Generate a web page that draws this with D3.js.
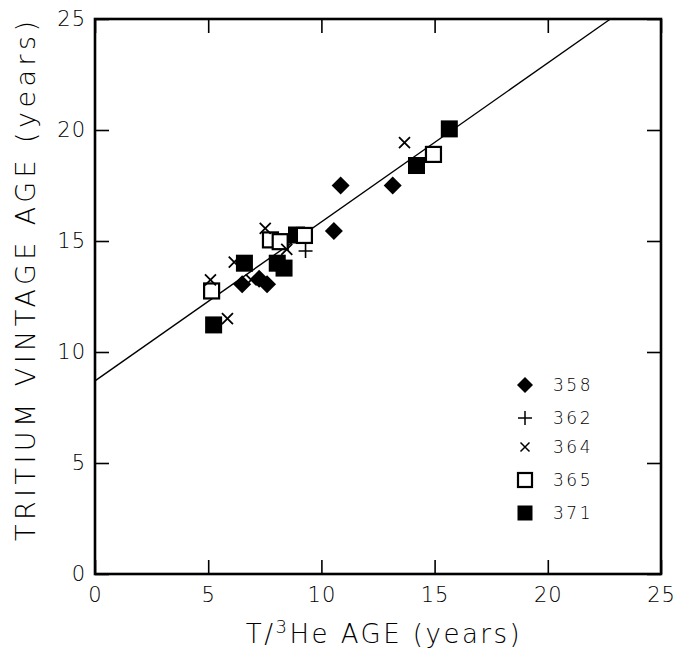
<!DOCTYPE html>
<html>
<head>
<meta charset="utf-8">
<script src="https://cdn.jsdelivr.net/npm/d3@7"></script>
<style>
  html, body { margin: 0; padding: 0; background: #fff; }
  svg { display: block; }
  text { font-family: "DejaVu Sans", sans-serif; font-weight: 200; fill: #000; }
</style>
</head>
<body>
<svg id="chart" width="677" height="654"></svg>
<script>
// Tritium vintage age vs. T/3He age, by station
const s358 = [[6.5, 13.05], [7.25, 13.3], [7.6, 13.05], [10.55, 15.45], [10.85, 17.5], [13.15, 17.5]];
const s362 = [[9.3, 14.55]];
const s364 = [[5.1, 13.25], [5.85, 11.5], [6.15, 14.05], [6.9, 13.25], [7.52, 15.57], [8.47, 14.62], [13.67, 19.43]];
const s365 = [[5.15, 12.75], [7.75, 15.05], [8.18, 14.97], [9.25, 15.25], [14.95, 18.9]];
const s371 = [[5.24, 11.22], [6.6, 14.0], [8.05, 14.0], [8.35, 13.78], [8.9, 15.27], [14.2, 18.4], [15.65, 20.05]];

const fitIntercept = 8.7;
const fitSlope = 0.716;

const xTicks = [0, 5, 10, 15, 20, 25];
const yTicks = [0, 5, 10, 15, 20, 25];
const legendLabels = ["358", "362", "364", "365", "371"];

const svg = d3.select("#chart");
const plotL = 95, plotR = 661, plotT = 19, plotB = 574;

const x = d3.scaleLinear().domain([0, 25]).range([plotL, plotR]);
const y = d3.scaleLinear().domain([0, 25]).range([plotB, plotT]);

// inward ticks on all four sides
const tickLen = 14;
const axB = svg.append("g").attr("transform", `translate(0,${plotB})`)
  .call(d3.axisBottom(x).tickValues(xTicks).tickSizeInner(-tickLen).tickSizeOuter(0).tickPadding(13));
const axL = svg.append("g").attr("transform", `translate(${plotL},0)`)
  .call(d3.axisLeft(y).tickValues(yTicks).tickSizeInner(-tickLen).tickSizeOuter(0).tickPadding(9));
const axT = svg.append("g").attr("transform", `translate(0,${plotT})`)
  .call(d3.axisTop(x).tickValues(xTicks).tickSizeInner(-tickLen).tickSizeOuter(0).tickFormat(""));
const axR = svg.append("g").attr("transform", `translate(${plotR},0)`)
  .call(d3.axisRight(y).tickValues(yTicks).tickSizeInner(-tickLen).tickSizeOuter(0).tickFormat(""));

[axB, axL, axT, axR].forEach(g => {
  g.select(".domain").remove();
  g.selectAll(".tick line").attr("stroke", "#000").attr("stroke-width", 1.6);
  g.selectAll(".tick text").attr("font-size", 21).attr("letter-spacing", 1)
    .style("font-family", "DejaVu Sans, sans-serif").style("font-weight", 200).attr("fill", "#000");
});

// frame
svg.append("rect")
  .attr("x", plotL).attr("y", plotT)
  .attr("width", plotR - plotL).attr("height", plotB - plotT)
  .attr("fill", "none").attr("stroke", "#000").attr("stroke-width", 2.6);

// regression line, ending at the top of the frame
const xEnd = (25 - fitIntercept) / fitSlope;
svg.append("line")
  .attr("x1", x(0)).attr("y1", y(fitIntercept))
  .attr("x2", x(xEnd)).attr("y2", y(25))
  .attr("stroke", "#000").attr("stroke-width", 1.4);

// marker drawers
function diamond(g, cx, cy, r) {
  g.append("path")
    .attr("d", `M${cx},${cy - r}L${cx + r},${cy}L${cx},${cy + r}L${cx - r},${cy}Z`)
    .attr("fill", "#000");
}
function plus(g, cx, cy, r, w) {
  g.append("path")
    .attr("d", `M${cx - r},${cy}H${cx + r}M${cx},${cy - r}V${cy + r}`)
    .attr("stroke", "#000").attr("stroke-width", w).attr("fill", "none");
}
function cross(g, cx, cy, r, w) {
  g.append("path")
    .attr("d", `M${cx - r},${cy - r}L${cx + r},${cy + r}M${cx - r},${cy + r}L${cx + r},${cy - r}`)
    .attr("stroke", "#000").attr("stroke-width", w).attr("fill", "none");
}
function openSq(g, cx, cy, s) {
  g.append("rect").attr("x", cx - s / 2).attr("y", cy - s / 2).attr("width", s).attr("height", s)
    .attr("fill", "#fff").attr("stroke", "#000").attr("stroke-width", 2.2);
}
function fillSq(g, cx, cy, s) {
  g.append("rect").attr("x", cx - s / 2).attr("y", cy - s / 2).attr("width", s).attr("height", s)
    .attr("fill", "#000");
}

const pts = svg.append("g");
s358.forEach(d => diamond(pts, x(d[0]), y(d[1]), 9));
s371.forEach(d => fillSq(pts, x(d[0]), y(d[1]), 17));
s365.forEach(d => openSq(pts, x(d[0]), y(d[1]), 15));
s362.forEach(d => plus(pts, x(d[0]), y(d[1]), 7, 1.6));
s364.forEach(d => cross(pts, x(d[0]), y(d[1]), 5.5, 1.8));

// legend
const legX = 525, legY = [385, 418, 447, 480, 513];
const leg = svg.append("g");
diamond(leg, legX, legY[0], 8);
plus(leg, legX, legY[1], 7, 1.5);
cross(leg, legX, legY[2], 4.5, 1.5);
openSq(leg, legX, legY[3], 14);
fillSq(leg, legX, legY[4], 15);
legendLabels.forEach((t, i) => {
  leg.append("text").attr("x", 553).attr("y", legY[i]).attr("dy", "0.36em")
    .attr("font-size", 17).attr("letter-spacing", 2.5).text(t);
});

// axis titles
const xt = svg.append("text").attr("x", 384).attr("y", 643).attr("text-anchor", "middle")
  .attr("font-size", 26).attr("letter-spacing", 2.5);
xt.append("tspan").text("T/");
xt.append("tspan").attr("font-size", 18).attr("dy", -10).text("3");
xt.append("tspan").attr("dy", 10).text("He AGE (years)");

svg.append("text")
  .attr("transform", `translate(35,281) rotate(-90)`)
  .attr("text-anchor", "middle")
  .attr("font-size", 27)
  .attr("textLength", 520).attr("lengthAdjust", "spacing")
  .text("TRITIUM VINTAGE AGE (years)");
</script>
</body>
</html>
